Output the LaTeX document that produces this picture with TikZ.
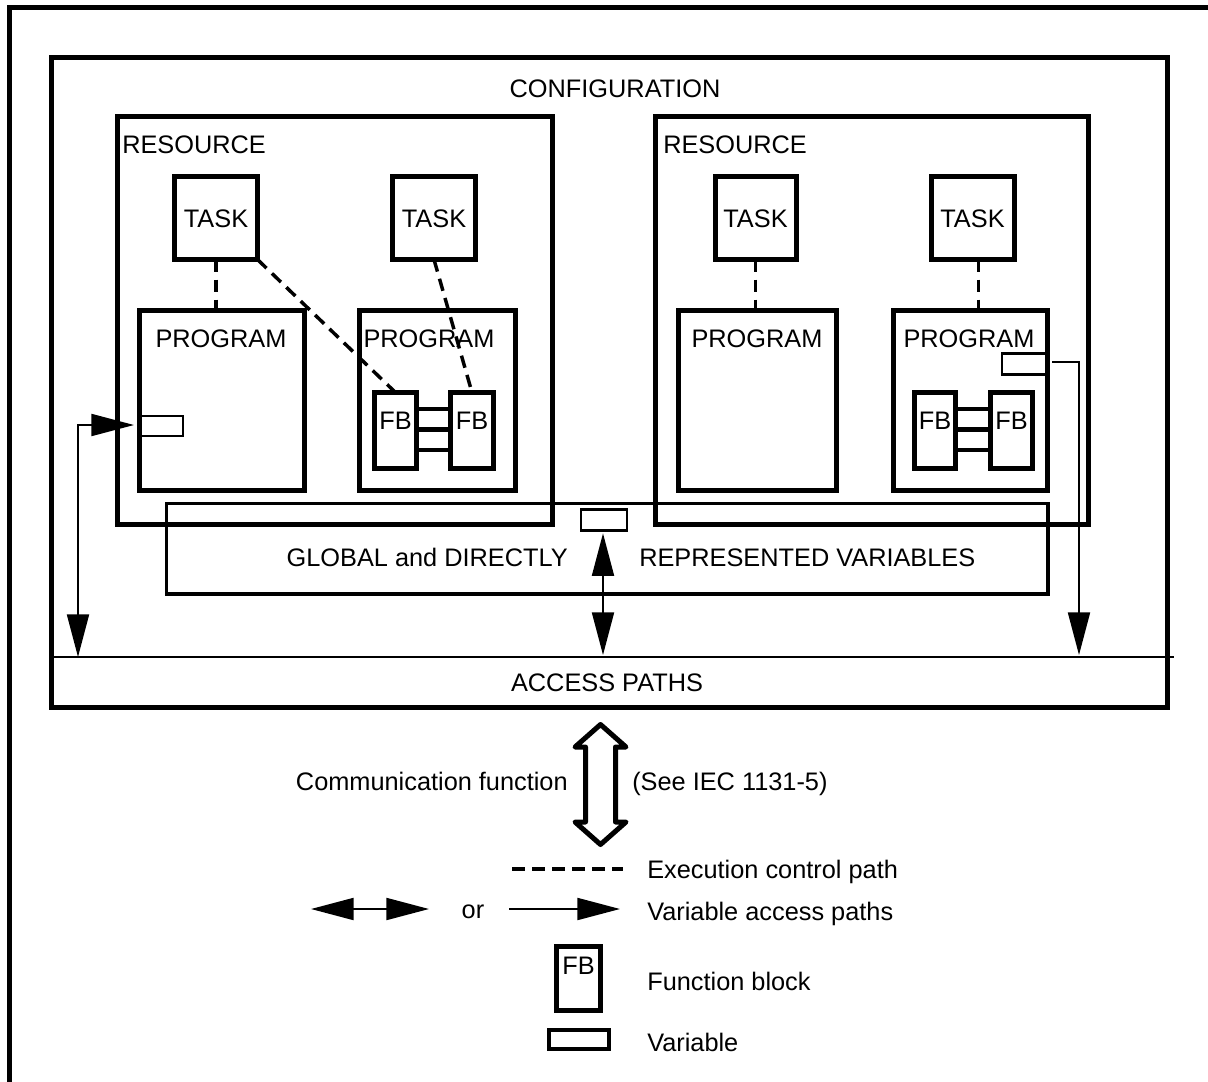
\documentclass[tikz,border=0pt]{standalone}
\usepackage{fontspec}
\setmainfont{Liberation Sans}
\usetikzlibrary{arrows.meta,calc}

\tikzset{
  bigtri/.tip={Triangle[length=32pt,width=16.5pt]},
  every node/.style={font=\fontsize{19}{23}\selectfont},
  lbl/.style={inner sep=0pt, text height=13.6pt, text depth=0pt},
  box/.style 2 args={draw, line width=3.75pt, inner sep=0pt, outer sep=0pt,
    minimum width=#1*0.75pt, minimum height=#2*0.75pt},
  fbtext/.style={text height=13.6pt, text depth=#1},
  varbox/.style 2 args={draw, line width=1.9pt, inner sep=0pt, outer sep=0pt,
    minimum width=#1*0.75pt, minimum height=#2*0.75pt},
  ctrl/.style={line width=2.6pt, dash pattern=on 9.4pt off 5.6pt},
  varpath/.style={line width=1.5pt},
  wire/.style={line width=3.2pt},
  thick5/.style={line width=3.75pt},
}

\begin{document}
\begin{tikzpicture}[x=0.75pt, y=-0.75pt]
\useasboundingbox (0,0) rectangle (1208,1082);
\fill[white] (0,0) rectangle (1208,1082);

% frame corner
\draw[thick5] (9.8,1082) -- (9.8,7.5) -- (1208,7.5);

% configuration and resources
\node[box={1116}{650}] (CFG) at (609.5,382.5) {};
\node[lbl] (cfgL) at (615,88) {CONFIGURATION};
\node[box={435}{408}] (R1) at (335,320.5) {};
\node[box={433}{408}] (R2) at (872,320.5) {};
\node[lbl, anchor=west] (r1L) at (122,144) {RESOURCE};
\node[lbl, anchor=west] (r2L) at (663,144) {RESOURCE};

% tasks
\node[box={83}{83}, lbl] (T1) at (216,218) {TASK};
\node[box={83}{83}, lbl] (T2) at (434,218) {TASK};
\node[box={81}{83}, lbl] (T3) at (755.5,218) {TASK};
\node[box={83}{83}, lbl] (T4) at (972.5,218) {TASK};

% programs
\node[box={165}{180}] (P1) at (222,400.5) {};
\node[box={156}{180}] (P2) at (437.5,400.5) {};
\node[box={158}{180}] (P3) at (757.5,400.5) {};
\node[box={154}{180}] (P4) at (970.5,400.5) {};
\node[lbl] (p1L) at (221,338) {PROGRAM};
\node[lbl] (p2L) at (429,338) {PROGRAM};
\node[lbl] (p3L) at (757,338) {PROGRAM};
\node[lbl] (p4L) at (969,338) {PROGRAM};

% function blocks
\node[box={42}{76}, fbtext=14.6pt] (FB1) at (395.5,430.5) {FB};
\node[box={43}{76}, fbtext=14.6pt] (FB2) at (472,430.5) {FB};
\node[box={41}{76}, fbtext=14.6pt] (FB3) at (935,430.5) {FB};
\node[box={42}{76}, fbtext=14.6pt] (FB4) at (1011.5,430.5) {FB};
\foreach \a/\b in {FB1/FB2, FB3/FB4}
  \foreach \dy in {-21.5,-1,19.5}
    \draw[wire] ($(\a.east)+(0,\dy)$) -- ($(\b.west)+(0,\dy)$);

% global variables area
\node[draw, line width=2.6pt, inner sep=0pt, minimum width=881.7*0.75pt,
      minimum height=90.5*0.75pt] (G) at (607.2,548.6) {};
\node[lbl, anchor=east] (gL) at (568,557) {GLOBAL and DIRECTLY};
\node[lbl, anchor=west] (gR) at (639,557) {REPRESENTED VARIABLES};

% variables
\node[varbox={43}{20}] (V1) at (161.5,426) {};
\node[varbox={44}{21}] (V2) at (1024,364) {};
\node[varbox={46}{20.6}] (V3) at (604,520) {};

% execution control paths
\draw[ctrl] (T1.south) -- (T1.south |- P1.north);
\draw[ctrl] (T1.south east) -- (FB1.north);
\draw[ctrl] (T2.south) -- (FB2.north);
\draw[ctrl] (T3.south) -- (T3.south |- P3.north);
\draw[ctrl] ($(T4.south)+(6,0)$) -- ($(T4.south |- P4.north)+(6,0)$);

% access paths
\coordinate (accL) at (53.5,657);
\coordinate (accR) at (1174,657);
\draw[varpath] (accL) -- (accR);
\node[lbl] (accT) at (607,682) {ACCESS PATHS};
\coordinate (a1) at (78,657);
\coordinate (a3) at (1079,657);
\draw[varpath, bigtri-bigtri] (a1) |- ($(V1.west)+(-6,-1)$);
\draw[varpath, bigtri-bigtri] ($(V3.south)+(-1,3)$) -- ($(V3.south |- accL)+(-1,-2)$);
\draw[varpath, -bigtri] ($(V2.east)+(6,-2)$) -| ($(a3)+(0,-2)$);

% communication function
\draw[thick5, line join=round, fill=white]
  (600.5,724.5) -- (626,747) -- (615.5,747) -- (615.5,822) -- (626,822)
  -- (600.5,844.5) -- (575,822) -- (585.5,822) -- (585.5,747) -- (575,747) -- cycle;
\node[lbl, anchor=east] (cfL) at (568,781) {Communication function};
\node[lbl, anchor=west] (cfR) at (632,781) {(See IEC 1131-5)};

% legend
\coordinate (d1) at (512,869);
\coordinate (d2) at (623,869);
\draw[line width=3pt, dash pattern=on 9.75pt off 5.25pt] (d1) -- (d2);
\node[lbl, anchor=west] (l1) at (647,869) {Execution control path};
\coordinate (e1) at (311,909);
\coordinate (e2) at (429,909);
\draw[varpath, bigtri-bigtri] (e1) -- (e2);
\node[lbl] (orL) at (473,909) {or};
\coordinate (f1) at (509,909);
\coordinate (f2) at (620,909);
\draw[varpath, -bigtri] (f1) -- (f2);
\node[lbl, anchor=west] (l2) at (647,911.5) {Variable access paths};
\node[box={44}{64}, fbtext=20.2pt] (LFB) at (578.5,978.5) {FB};
\node[lbl, anchor=west] (l3) at (647,981) {Function block};
\node[varbox={60}{18.4}, line width=3pt] (LV) at (578.7,1039.5) {};
\node[lbl, anchor=west] (l4) at (647,1042) {Variable};
\end{tikzpicture}
\end{document}
